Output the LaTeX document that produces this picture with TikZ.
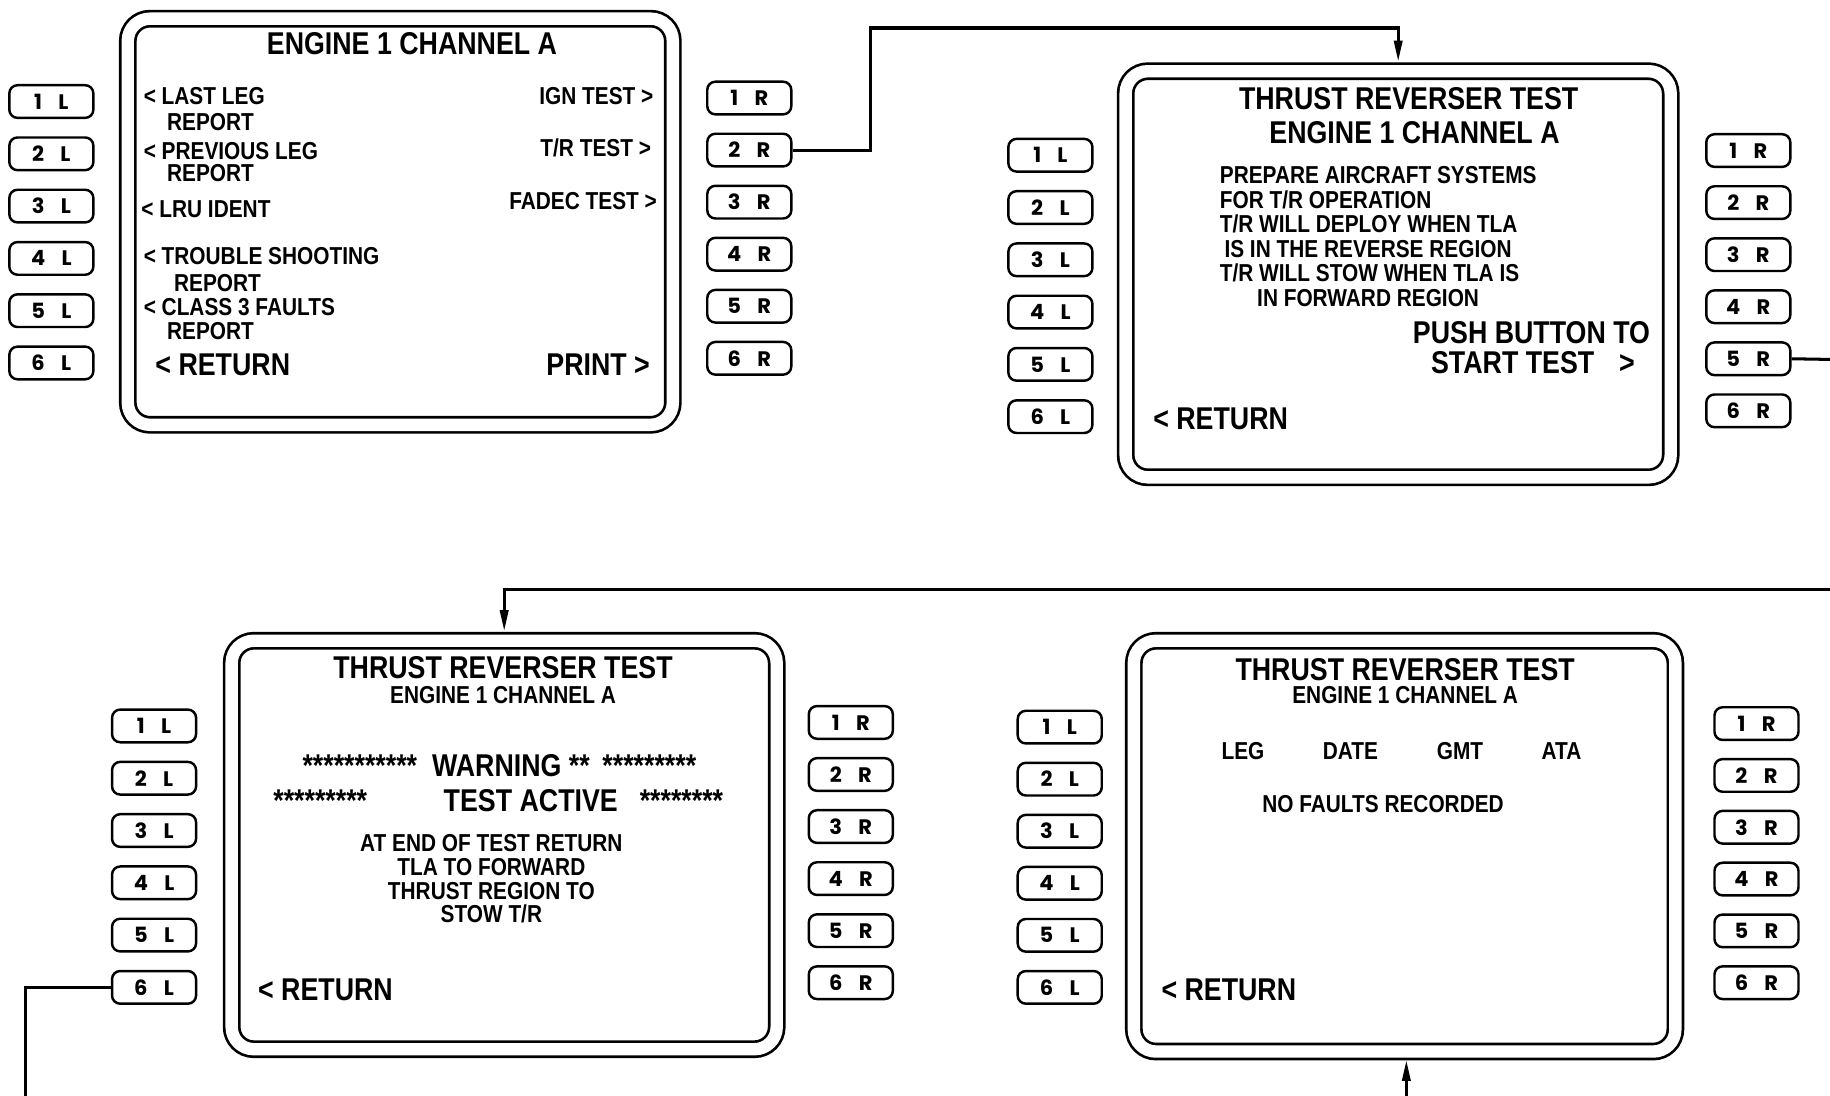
\documentclass[tikz,border=0pt]{standalone}
\usepackage{fontspec}
\setmainfont[FakeStretch=0.85]{Liberation Sans}
\newfontfamily\btnfont{Poppins}
\usetikzlibrary{arrows.meta}
\begin{document}
\begin{tikzpicture}[x=1pt,y=-1pt,
  screen/.style={draw, line width=2.3pt, double, double distance=10.6pt, rounded corners=19pt, minimum width=467pt, minimum height=348pt, inner sep=0pt},
  btn/.style={draw, line width=2.1pt, rounded corners=7pt, minimum width=72pt, minimum height=28pt, inner sep=0pt, font=\btnfont\bfseries\fontsize{18}{18}\selectfont},
  sm/.style={font=\fontsize{21}{21}\selectfont\bfseries, inner sep=0pt, text height=15pt, text depth=0pt},
  lg/.style={font=\fontsize{27}{27}\selectfont\bfseries, inner sep=0pt, text height=19.3pt, text depth=0pt},
  conn/.style={line width=2.6pt},
  arr/.style={conn, -{Triangle[length=18pt,width=7pt]}, shorten >=7pt}
]
\useasboundingbox (0,0) rectangle (1568,939);

% ---------- screens ----------
\node[screen] (scrA) at (343,190) {};
\node[screen] (scrB) at (1198,235) {};
\node[screen, minimum height=350pt] (scrC) at (432,724) {};
\node[screen, minimum width=464pt, minimum height=352pt] (scrD) at (1203.5,725) {};

% ---------- buttons ----------
\foreach \i in {1,...,6}{
  \node[btn] (AL\i) at (44,{87+(\i-1)*44.8}) {\i\hspace{14pt}L};
  \node[btn] (AR\i) at (642,{84+(\i-1)*44.6}) {\i\hspace{14pt}R};
  \node[btn] (BL\i) at (900,{133+(\i-1)*44.8}) {\i\hspace{14pt}L};
  \node[btn] (BR\i) at (1498,{129+(\i-1)*44.6}) {\i\hspace{14pt}R};
  \node[btn] (CL\i) at (132,{622+(\i-1)*44.8}) {\i\hspace{14pt}L};
  \node[btn] (CR\i) at (729,{619+(\i-1)*44.6}) {\i\hspace{14pt}R};
  \node[btn] (DL\i) at (908,{623+(\i-1)*44.6}) {\i\hspace{14pt}L};
  \node[btn] (DR\i) at (1505,{620+(\i-1)*44.4}) {\i\hspace{14pt}R};
}

% ---------- screen A text ----------
\node[lg] (a0) at (353,37) {ENGINE 1 CHANNEL A};
\node[sm, anchor=west] (a1) at (123,82) {< LAST LEG};
\node[sm, anchor=west] (a2) at (143,104) {REPORT};
\node[sm, anchor=west] (a3) at (123,129) {< PREVIOUS LEG};
\node[sm, anchor=west] (a4) at (143,148) {REPORT};
\node[sm, anchor=west] (a5) at (121,179) {< LRU IDENT};
\node[sm, anchor=west] (a6) at (123,219) {< TROUBLE SHOOTING};
\node[sm, anchor=west] (a7) at (149,242) {REPORT};
\node[sm, anchor=west] (a8) at (123,263) {< CLASS 3 FAULTS};
\node[sm, anchor=west] (a9) at (143,283) {REPORT};
\node[lg, anchor=west] (a10) at (133,312) {< RETURN};
\node[sm, anchor=east] (a11) at (560,82) {IGN TEST >};
\node[sm, anchor=east] (a12) at (558,127) {T/R TEST >};
\node[sm, anchor=east] (a13) at (563,172) {FADEC TEST >};
\node[lg, anchor=east] (a14) at (557,312) {PRINT >};

% ---------- screen B text ----------
\node[lg] (b0) at (1207,84) {THRUST REVERSER TEST};
\node[lg] (b1) at (1212,113) {ENGINE 1 CHANNEL A};
\node[sm, anchor=west] (b2) at (1045,150) {PREPARE AIRCRAFT SYSTEMS};
\node[sm, anchor=west] (b3) at (1045,171) {FOR T/R OPERATION};
\node[sm, anchor=west] (b4) at (1045,192) {T/R WILL DEPLOY WHEN TLA};
\node[sm, anchor=west] (b5) at (1049,213) {IS IN THE REVERSE REGION};
\node[sm, anchor=west] (b6) at (1045,234) {T/R WILL STOW WHEN TLA IS};
\node[sm, anchor=west] (b7) at (1077,255) {IN FORWARD REGION};
\node[lg, anchor=east] (b8) at (1414,285) {PUSH BUTTON TO};
\node[lg, anchor=west] (b9) at (1226,310) {START TEST};
\node[lg] (b10) at (1394,310) {>};
\node[lg, anchor=west] (b11) at (988,358) {< RETURN};

% ---------- screen C text ----------
\node[lg] (c0) at (431,572) {THRUST REVERSER TEST};
\node[sm] (c1) at (431,595) {ENGINE 1 CHANNEL A};
\node[lg, anchor=west] (c2) at (259,656) {***********};
\node[lg, anchor=west] (c3) at (370,656) {WARNING **};
\node[lg, anchor=west] (c4) at (516,656) {*********};
\node[lg, anchor=west] (c5) at (234,686) {*********};
\node[lg, anchor=west] (c6) at (380,686) {TEST ACTIVE};
\node[lg, anchor=west] (c7) at (548,686) {********};
\node[sm] (c8) at (421,722) {AT END OF TEST RETURN};
\node[sm] (c9) at (421,743) {TLA TO FORWARD};
\node[sm] (c10) at (421,763) {THRUST REGION TO};
\node[sm] (c11) at (421,783) {STOW T/R};
\node[lg, anchor=west] (c12) at (221,848) {< RETURN};

% ---------- screen D text ----------
\node[lg] (d0) at (1204,573) {THRUST REVERSER TEST};
\node[sm] (d1) at (1204,595) {ENGINE 1 CHANNEL A};
\node[sm] (d2) at (1065,643) {LEG};
\node[sm] (d3) at (1157,643) {DATE};
\node[sm] (d4) at (1251,643) {GMT};
\node[sm] (d5) at (1338,643) {ATA};
\node[sm] (d6) at (1185,689) {NO FAULTS RECORDED};
\node[lg, anchor=west] (d7) at (995,848) {< RETURN};

% ---------- connectors ----------
\coordinate (k1) at (746,24);
\coordinate (k2) at (1570,308);
\coordinate (k3) at (1570,505);
\coordinate (k4) at (22,941);
\coordinate (k5) at (1205,941);
\draw[arr] (AR2.east) -| (k1) -| (scrB.north);
\draw[conn] (BR5.east) -- (k2);
\draw[arr] (k3) -| (scrC.north);
\draw[conn] (CL6.west) -| (k4);
\draw[arr, shorten >=6pt] (k5) -- (k5 |- scrD.south);
\end{tikzpicture}
\end{document}
